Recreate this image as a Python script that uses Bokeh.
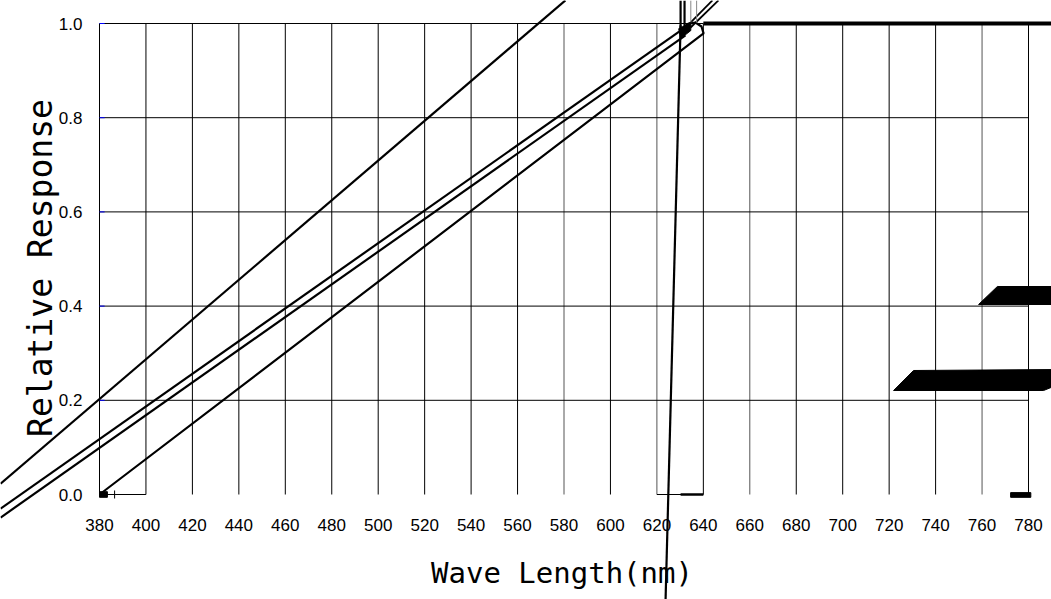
from bokeh.plotting import figure
from bokeh.models import Range1d
from bokeh.embed import file_html
from bokeh.resources import INLINE
from bokeh.core.properties import value
import math

# ---- axis ticks / labels ----
wavelength_ticks = [380, 400, 420, 440, 460, 480, 500, 520, 540, 560, 580,
                    600, 620, 640, 660, 680, 700, 720, 740, 760, 780]
wavelength_labels = [str(v) for v in wavelength_ticks]
response_ticks = [0.0, 0.2, 0.4, 0.6, 0.8, 1.0]
response_labels = ["0.0", "0.2", "0.4", "0.6", "0.8", "1.0"]
light_grid_ticks = [580, 620, 660, 760]
x_title = "Wave Length(nm)"
y_title = "Relative Response"

# ---- response curves (as they appear in the scanned chart) ----
line_a_x = [337.4, 580.6]
line_a_y = [0.023, 1.049]
line_b_x = [337.4, 630.2]
line_b_y = [-0.030, 0.985]
line_c_x = [337.4, 632.3]
line_c_y = [-0.049, 0.975]
line_d_x = [380.0, 640.1, 639.2, 636.6, 633.6, 631.0]
line_d_y = [0.000, 0.979, 0.9936, 1.002, 1.000, 0.989]
line_e_x = [630.2, 623.7]
line_e_y = [0.996, -0.230]
line_f1_x = [631.9, 643.9]
line_f1_y = [0.989, 1.049]
line_f2_x = [634.5, 646.5]
line_f2_y = [0.9915, 1.049]
top_stub_x = [630.2, 631.9]
top_stub_y0 = [1.049, 1.049]
top_stub_y1 = [0.985, 0.985]
thin_stub_x = [634.6, 637.1]
thin_stub_y0 = [1.049, 1.049]
thin_stub_y1 = [1.002, 1.002]
plateau_x = [640.0, 795.0]
plateau_y = [1.0, 1.0]
blob_x = [629.4, 634.6, 634.6, 630.2]
blob_y = [0.989, 1.002, 0.985, 0.968]
band1_x = [758.5, 766.6, 795.0, 795.0]
band1_y = [0.4034, 0.4416, 0.4416, 0.4034]
band2_x = [721.9, 730.5, 795.0, 795.0, 786.5]
band2_y = [0.2208, 0.2633, 0.2654, 0.2378, 0.2208]
base_seg_x0 = [380.0, 620.0]
base_seg_x1 = [400.0, 640.0]
base_thick_x = [630.2, 640.0]
marker_sq_x = [380.0, 383.4]
marker_sq_y = [-0.006, 0.006]
marker_tick_x = [386.5]
marker_tick_y = [-0.0085, 0.0085]
end_bar_x = [772.3, 781.0]
end_bar_y = [-0.006, 0.004]

# ---- pixel calibration of the page (figure sits at the page's top-left) ----
W, H = 1051, 599
px_per_nm = 929 / 400.0
px_per_unit = 471.0
x0 = 380 + (0 - 99) / px_per_nm
x1 = x0 + W / px_per_nm
y1 = (494 - 0) / px_per_unit
y0 = y1 - H / px_per_unit

p = figure(width=W, height=H, x_range=Range1d(x0, x1), y_range=Range1d(y0, y1),
           output_backend="svg", toolbar_location=None,
           x_axis_type=None, y_axis_type=None, min_border=0,
           min_border_left=0, min_border_right=0, min_border_top=0, min_border_bottom=0)
p.outline_line_color = None
p.background_fill_color = "white"
p.border_fill_color = "white"

# grid
vcolors = ["#555555" if t in light_grid_ticks else "black" for t in wavelength_ticks]
p.segment(x0=wavelength_ticks, y0=[0.0] * len(wavelength_ticks),
          x1=wavelength_ticks, y1=[1.0] * len(wavelength_ticks),
          line_color=vcolors, line_width=1)
hticks = response_ticks[1:-1]
p.segment(x0=[wavelength_ticks[0]] * len(hticks), y0=hticks,
          x1=[wavelength_ticks[-1]] * len(hticks), y1=hticks,
          line_color="black", line_width=1)
p.segment(x0=[wavelength_ticks[0]], y0=[1.0], x1=[640.0], y1=[1.0],
          line_color="black", line_width=1)
p.segment(x0=base_seg_x0, y0=[0.0, 0.0], x1=base_seg_x1, y1=[0.0, 0.0],
          line_color="black", line_width=1)
p.line(base_thick_x, [0.0, 0.0], line_color="black", line_width=2.5)

# blue y ticks
bt = response_ticks[1:]
p.segment(x0=[380.0] * len(bt), y0=bt, x1=[382.2] * len(bt), y1=bt,
          line_color="#0000ff", line_width=1)

# curves
for xs, ys in [(line_a_x, line_a_y), (line_b_x, line_b_y), (line_c_x, line_c_y),
               (line_d_x, line_d_y)]:
    p.line(xs, ys, line_color="black", line_width=2.2)
p.line(line_f1_x, line_f1_y, line_color="black", line_width=1.8)
p.line(line_f2_x, line_f2_y, line_color="black", line_width=1.8)
p.segment(x0=top_stub_x, y0=top_stub_y0, x1=top_stub_x, y1=top_stub_y1,
          line_color="black", line_width=2.2)
p.segment(x0=thin_stub_x, y0=thin_stub_y0, x1=thin_stub_x, y1=thin_stub_y1,
          line_color="#888888", line_width=1)
p.line(plateau_x, plateau_y, line_color="black", line_width=4)
p.patch(blob_x, blob_y, fill_color="black", line_color="black")
p.patch(band1_x, band1_y, fill_color="black", line_color="black")
p.patch(band2_x, band2_y, fill_color="black", line_color="black")

# small marks at the baseline
p.quad(left=[marker_sq_x[0]], right=[marker_sq_x[1]], bottom=[marker_sq_y[0]], top=[marker_sq_y[1]],
       fill_color="black", line_color="black")
p.segment(x0=marker_tick_x, y0=[marker_tick_y[0]], x1=marker_tick_x, y1=[marker_tick_y[1]],
          line_color="black", line_width=1)
p.quad(left=[end_bar_x[0]], right=[end_bar_x[1]], bottom=[end_bar_y[0]], top=[end_bar_y[1]],
       fill_color="black", line_color="black")

# tick labels
label_x_pos = 380 + (82 - 99) / px_per_nm
p.text(x=[label_x_pos] * len(response_ticks), y=response_ticks, text=response_labels,
       text_font=value("Liberation Sans"), text_font_size="17px",
       text_align="right", text_baseline="middle", text_color="black")
label_y_pos = (494 - 524) / px_per_unit
p.text(x=wavelength_ticks, y=[label_y_pos] * len(wavelength_ticks), text=wavelength_labels,
       text_font=value("Liberation Sans"), text_font_size="17px",
       text_align="center", text_baseline="middle", text_color="black")

# axis titles
p.text(x=[380 + (561.5 - 99) / px_per_nm], y=[(494 - 572) / px_per_unit], text=[x_title],
       text_font=value("DejaVu Sans Mono"), text_font_size="29px",
       text_align="center", text_baseline="middle", text_color="black")
p.text(x=[380 + (40 - 99) / px_per_nm], y=[(494 - 267.5) / px_per_unit], text=[y_title],
       text_font=value("DejaVu Sans Mono"), text_font_size="33px", angle=math.pi / 2,
       text_align="center", text_baseline="alphabetic", text_color="black")

# near-vertical line crossing the x title
p.line(line_e_x, line_e_y, line_color="black", line_width=2.2)

open("out.html", "w").write(file_html(p, INLINE))
